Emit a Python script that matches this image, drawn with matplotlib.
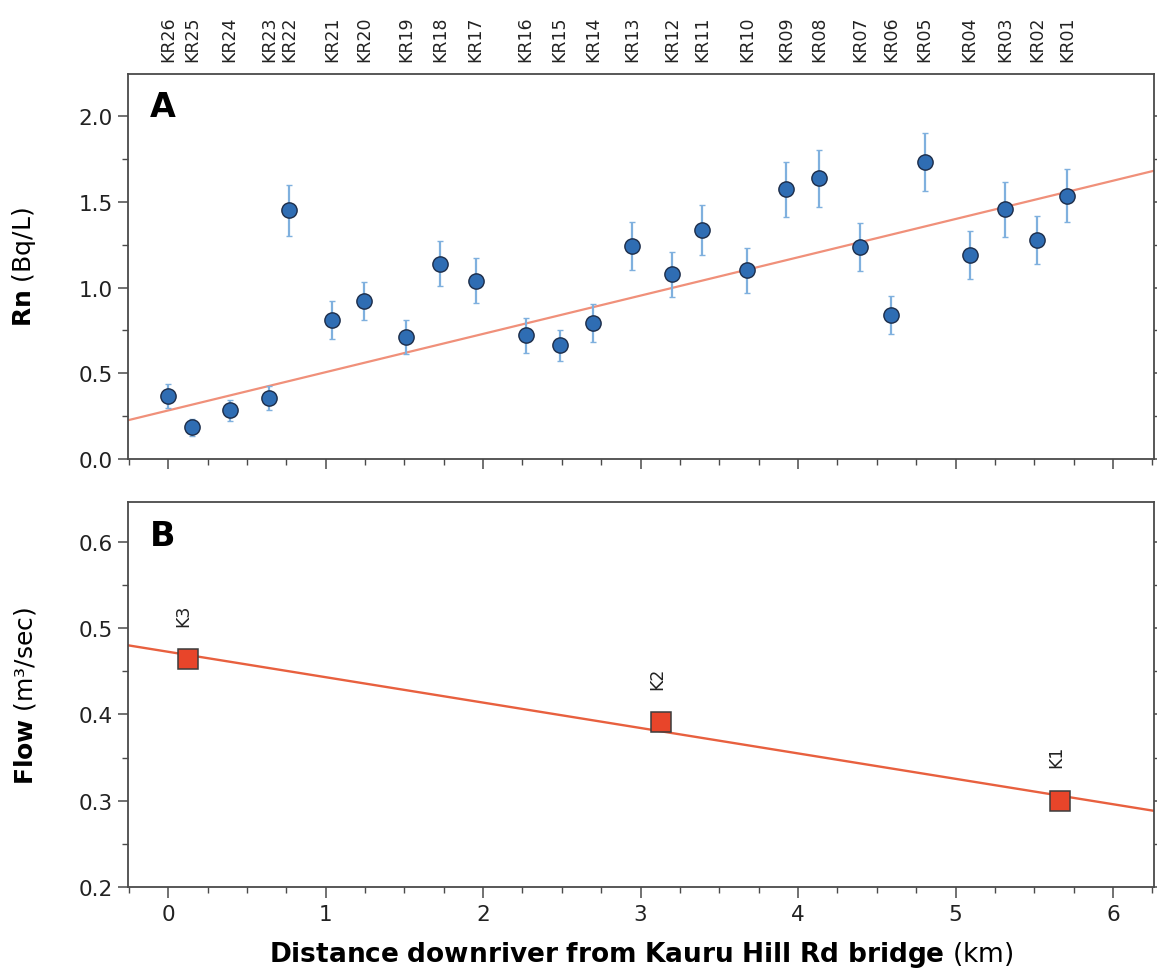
import matplotlib
matplotlib.use("Agg")
import matplotlib.pyplot as plt
from matplotlib.ticker import MultipleLocator
import numpy as np

# ---------------- data ----------------
site_labels = ["KR26", "KR25", "KR24", "KR23", "KR22", "KR21", "KR20", "KR19", "KR18",
               "KR17", "KR16", "KR15", "KR14", "KR13", "KR12", "KR11", "KR10", "KR09",
               "KR08", "KR07", "KR06", "KR05", "KR04", "KR03", "KR02", "KR01"]
site_dist = [0.00, 0.15, 0.39, 0.64, 0.77, 1.04, 1.245, 1.51, 1.725, 1.953, 2.27, 2.486,
             2.70, 2.947, 3.20, 3.392, 3.675, 3.922, 4.133, 4.396, 4.592, 4.804, 5.09,
             5.316, 5.52, 5.708]
rn_values = [0.366, 0.185, 0.284, 0.356, 1.45, 0.812, 0.923, 0.713, 1.139, 1.04, 0.721,
             0.663, 0.791, 1.24, 1.077, 1.337, 1.10, 1.574, 1.636, 1.236, 0.839, 1.733,
             1.188, 1.455, 1.275, 1.536]
rn_errors = [0.07, 0.05, 0.06, 0.07, 0.15, 0.11, 0.11, 0.10, 0.13, 0.13, 0.10, 0.09, 0.11,
             0.14, 0.13, 0.145, 0.13, 0.16, 0.167, 0.14, 0.11, 0.17, 0.14, 0.16, 0.14, 0.155]
rn_trend = (0.2233, 0.283)  # slope, intercept of drawn trend line

flow_labels = ["K3", "K2", "K1"]
flow_dist = [0.123, 3.13, 5.664]
flow_values = [0.464, 0.391, 0.300]

# ---------------- figure ----------------
W, H = 1157, 979
fig = plt.figure(figsize=(W / 100, H / 100), dpi=100)

def frac_axes(x0, y0, x1, y1):
    return fig.add_axes([x0 / W, 1 - y1 / H, (x1 - x0) / W, (y1 - y0) / H])

axA = frac_axes(128, 75, 1154, 460)
axB = frac_axes(128, 503, 1154, 888)

xlim = (-0.255, 6.26)
spine_col = "#4a4a4a"
tick_fs = 15.5

for ax in (axA, axB):
    ax.set_xlim(*xlim)
    for s in ax.spines.values():
        s.set_color(spine_col)
        s.set_linewidth(1.3)
    ax.xaxis.set_major_locator(MultipleLocator(1))
    ax.xaxis.set_minor_locator(MultipleLocator(0.25))
    ax.tick_params(axis="both", which="major", direction="out", length=7, width=1.1,
                   color=spine_col, labelsize=tick_fs, pad=4, labelcolor="#222222")
    ax.tick_params(axis="both", which="minor", direction="out", length=4, width=1.0,
                   color=spine_col)
    ax.tick_params(axis="y", which="both", right=True)
    ax.tick_params(axis="y", which="both", right=True, length=3)
    ax.tick_params(axis="y", which="major", left=True, length=7)
    ax.tick_params(axis="y", which="minor", left=True, length=4)

# ---------------- panel A ----------------
axA.set_ylim(0, 2.245)
axA.yaxis.set_major_locator(MultipleLocator(0.5))
axA.yaxis.set_minor_locator(MultipleLocator(0.25))
axA.yaxis.set_major_formatter(matplotlib.ticker.FormatStrFormatter("%.1f"))
axA.tick_params(axis="x", which="both", labelbottom=False)

xx = np.array(xlim)
axA.plot(xx, rn_trend[0] * xx + rn_trend[1], color="#f0907a", lw=1.6, zorder=1)
axA.errorbar(site_dist, rn_values, yerr=rn_errors, fmt="o", ms=11, mfc="#2f6db3",
             mec="#1c2c48", mew=1.0, ecolor="#7fb0de", elinewidth=1.6, capsize=2.5,
             capthick=1.0, zorder=3)

axA.set_ylabel(r"$\mathbf{Rn}$ (Bq/L)", fontsize=18)
axA.yaxis.set_label_coords(-0.088, 0.5)
axA.text(0.021, 0.916, "A", transform=axA.transAxes, fontsize=24, fontweight="bold",
         ha="left", va="center")

top = axA.secondary_xaxis("top")
top.set_xticks(site_dist, site_labels, rotation=90, fontsize=12.5)
top.tick_params(length=0, pad=9, labelcolor="#222222")
top.spines["top"].set_visible(False)

# ---------------- panel B ----------------
axB.set_ylim(0.2, 0.646)
axB.yaxis.set_major_locator(MultipleLocator(0.1))
axB.yaxis.set_minor_locator(MultipleLocator(0.05))
axB.yaxis.set_major_formatter(matplotlib.ticker.FormatStrFormatter("%.1f"))
axB.tick_params(axis="x", which="major", length=8)

coef = np.polyfit(flow_dist, flow_values, 1)
axB.plot(xx, np.polyval(coef, xx), color="#e8603f", lw=1.7, zorder=1)
axB.plot(flow_dist, flow_values, "s", ms=14, mfc="#e8452a", mec="#3c3c3c", mew=1.1,
         zorder=3)
for lab, x, y in zip(flow_labels, flow_dist, flow_values):
    axB.annotate(lab, (x, y), xytext=(-3, 32), textcoords="offset points",
                 rotation=90, ha="center", va="center", fontsize=12.5, color="#222222")

axB.set_ylabel(r"$\mathbf{Flow}$ (m³/sec)", fontsize=18)
axB.yaxis.set_label_coords(-0.088, 0.5)
axB.text(0.021, 0.9125, "B", transform=axB.transAxes, fontsize=24, fontweight="bold",
         ha="left", va="center")

axB.set_xlabel(r"$\mathbf{Distance\ downriver\ from\ Kauru\ Hill\ Rd\ bridge}$ (km)",
               fontsize=19)
axB.xaxis.set_label_coords(0.5, -0.135)

fig.savefig("out.png", dpi=100)
